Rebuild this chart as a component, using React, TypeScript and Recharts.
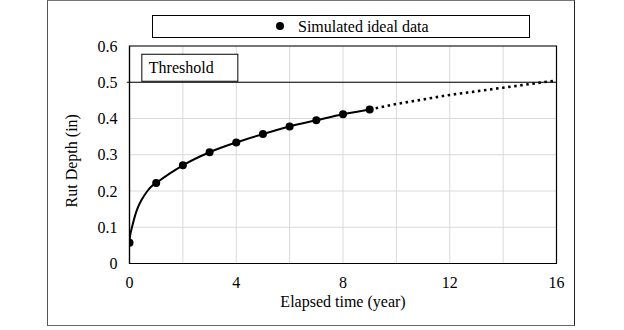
import React from 'react';
import {
  ComposedChart,
  Line,
  Scatter,
  XAxis,
  YAxis,
  CartesianGrid,
  ReferenceLine,
  ReferenceArea,
  Legend,
  Label,
} from 'recharts';

// Simulated ideal data (points)
const simYears = [0, 1, 2, 3, 4, 5, 6, 7, 8, 9];
const simDepth = [0.057, 0.222, 0.271, 0.307, 0.334, 0.357, 0.378, 0.395, 0.412, 0.425];

// Fitted curve (solid)
const fitYears = [0, 0.01, 0.03, 0.06, 0.1, 0.2, 0.3, 0.45, 0.65, 0.8, 1, 1.5, 2, 3, 4, 5, 6, 7, 8, 9];
const fitDepth = [0.057, 0.068, 0.08, 0.09, 0.102, 0.13, 0.152, 0.175, 0.198, 0.211, 0.222, 0.248, 0.271, 0.307, 0.334, 0.357, 0.378, 0.395, 0.412, 0.425];

// Extrapolated curve (dotted)
const extYears = [9, 10, 11, 12, 13, 14, 15, 16];
const extDepth = [0.425, 0.44, 0.4525, 0.465, 0.475, 0.485, 0.495, 0.505];

const xTicks = [0, 4, 8, 12, 16];
const xGrid = [2, 4, 6, 8, 10, 12, 14];
const yTicks = [0, 0.1, 0.2, 0.3, 0.4, 0.5, 0.6];
const threshold = 0.5;
const seriesName = 'Simulated ideal data';
const thresholdLabel = 'Threshold';

const simData = simYears.map((x, i) => ({ x, y: simDepth[i] }));
const fitData = fitYears.map((x, i) => ({ x, y: fitDepth[i] }));
const extData = extYears.map((x, i) => ({ x, y: extDepth[i] }));

const FONT = "'Liberation Serif', 'Times New Roman', Times, Tinos, 'DejaVu Serif', serif";
const fontStyle = { fontFamily: FONT };

const LegendBox = () => (
  <div
    style={{
      position: 'relative',
      width: 378,
      height: 23,
      border: '1px solid #000',
      boxSizing: 'border-box',
      background: '#fff',
      fontFamily: FONT,
      fontSize: 16,
      color: '#000',
    }}
  >
    <svg width={10} height={10} style={{ position: 'absolute', left: 122, top: 5 }}>
      <circle cx={5} cy={5} r={4} fill="#000" />
    </svg>
    <span style={{ position: 'absolute', left: 145, top: 1, lineHeight: '19px', whiteSpace: 'nowrap' }}>
      {seriesName}
    </span>
  </div>
);

const ThresholdLabel = (props: any) => {
  const { viewBox } = props;
  const x = viewBox.x + 15;
  const y = viewBox.y - 28;
  return (
    <g>
      <rect x={x} y={y} width={96} height={27} fill="#fff" stroke="#000" strokeWidth={1} />
      <text x={x + 7} y={y + 19} style={fontStyle} fontSize={16} fill="#000">
        {thresholdLabel}
      </text>
    </g>
  );
};

const YTitle = (props: any) => {
  const { viewBox } = props;
  const cy = viewBox.y + viewBox.height / 2 + 6;
  return (
    <text
      x={0}
      y={0}
      transform={`translate(77, ${cy}) rotate(-90)`}
      textAnchor="middle"
      style={fontStyle}
      fontSize={16}
      fill="#000"
    >
      Rut Depth (in)
    </text>
  );
};

const XTitle = (props: any) => {
  const { viewBox } = props;
  const cx = viewBox.x + viewBox.width / 2;
  return (
    <text x={cx} y={307} textAnchor="middle" style={fontStyle} fontSize={16} fill="#000">
      Elapsed time (year)
    </text>
  );
};

export default function App() {
  return (
    <div style={{ position: 'absolute', left: 0, top: 0, width: 624, height: 330, background: '#fff', fontFamily: FONT }}>
      <div
        style={{
          position: 'absolute',
          left: 47,
          top: 0,
          width: 528,
          height: 326,
          boxSizing: 'border-box',
          borderLeft: '1.5px solid #555',
          borderTop: '1.5px solid #777',
          borderRight: '1.5px solid #222',
          borderBottom: '1.5px solid #666',
        }}
      />
      <ComposedChart
        width={624}
        height={330}
        margin={{ top: 46, right: 67.5, bottom: 0, left: 0 }}
        style={{ position: 'absolute', left: 0, top: 0, fontFamily: FONT }}
      >
        <CartesianGrid
          stroke="#d9d9d9"
          strokeWidth={1}
          verticalValues={xGrid}
          horizontalValues={yTicks}
        />
        <XAxis
          type="number"
          dataKey="x"
          domain={[0, 16]}
          ticks={xTicks}
          allowDataOverflow
          height={66.5}
          tickSize={0}
          tickMargin={13}
          axisLine={{ stroke: '#000', strokeWidth: 1.2 }}
          tick={{ fill: '#000', fontSize: 16, style: fontStyle }}
        >
          <Label content={<XTitle />} />
        </XAxis>
        <YAxis
          type="number"
          dataKey="y"
          domain={[0, 0.6]}
          ticks={yTicks}
          allowDataOverflow
          width={129.5}
          tickSize={0}
          tickMargin={12}
          axisLine={{ stroke: '#000', strokeWidth: 1.2 }}
          tick={{ fill: '#000', fontSize: 16, style: fontStyle }}
        >
          <Label content={<YTitle />} />
        </YAxis>
        <ReferenceArea
          x1={0}
          x2={16}
          y1={0}
          y2={0.6}
          fill="none"
          stroke="#000"
          strokeWidth={1.2}
          fillOpacity={0}
          ifOverflow="visible"
        />
        <ReferenceLine
          segment={[
            { x: -0.1, y: threshold },
            { x: 16, y: threshold },
          ]}
          stroke="#000"
          strokeWidth={1.2}
          ifOverflow="visible"
          label={<ThresholdLabel />}
        />
        <Line
          data={extData}
          dataKey="y"
          type="monotone"
          stroke="#000"
          strokeWidth={2.6}
          strokeDasharray="2.5 3.6"
          dot={false}
          activeDot={false}
          legendType="none"
          isAnimationActive={false}
        />
        <Line
          data={fitData}
          dataKey="y"
          type="monotone"
          stroke="#000"
          strokeWidth={2}
          dot={false}
          activeDot={false}
          legendType="none"
          isAnimationActive={false}
        />
        <Scatter
          name={seriesName}
          data={simData}
          dataKey="y"
          fill="#000"
          shape={(p: any) => <circle cx={p.cx} cy={p.cy} r={4} fill="#000" />}
          isAnimationActive={false}
        />
        <Legend
          layout="horizontal"
          verticalAlign="middle"
          align="center"
          wrapperStyle={{ position: 'absolute', top: 15, left: 152, width: 378, height: 23 }}
          content={() => <LegendBox />}
        />
      </ComposedChart>
    </div>
  );
}
